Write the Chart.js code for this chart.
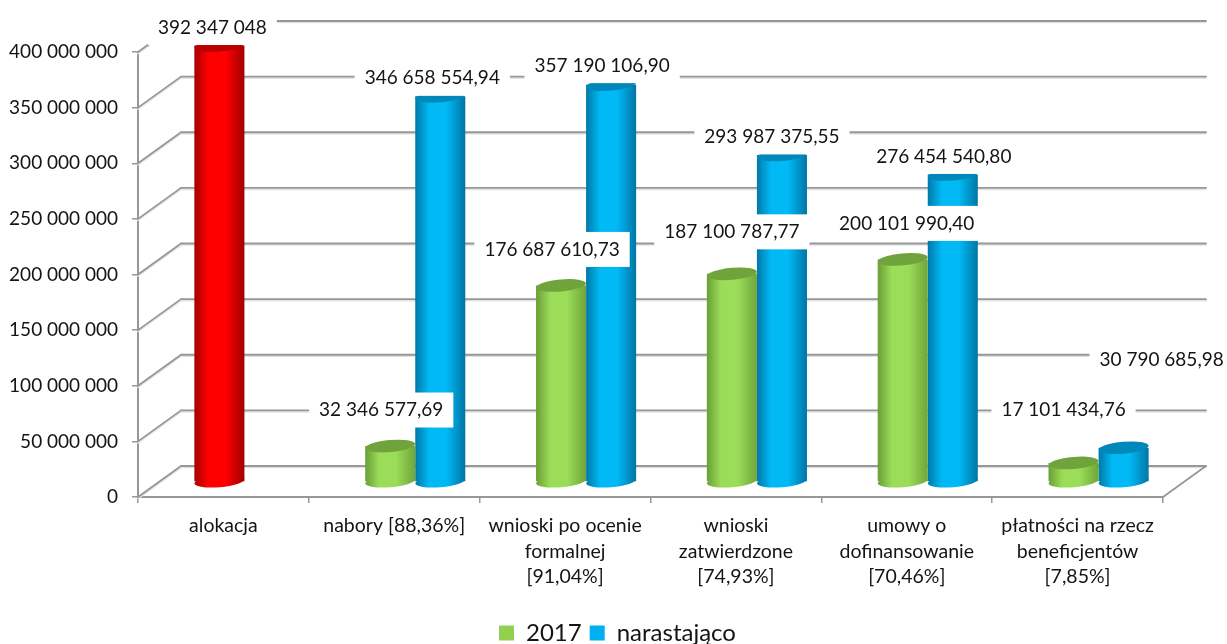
<!DOCTYPE html>
<html lang="pl">
<head>
<meta charset="utf-8">
<title>Alokacja</title>
<script src="https://cdn.jsdelivr.net/npm/chart.js@4"></script>
<style>
html,body{margin:0;padding:0;background:#fff}
#wrap{width:1227px;height:644px;position:relative}
</style>
</head>
<body>
<div id="wrap"><canvas id="c" width="1227" height="644"></canvas></div>
<script>
const categories = [
  ["alokacja"],
  ["nabory [88,36%]"],
  ["wnioski po ocenie","formalnej","[91,04%]"],
  ["wnioski","zatwierdzone","[74,93%]"],
  ["umowy o","dofinansowanie","[70,46%]"],
  ["płatności na rzecz","beneficjentów","[7,85%]"]
];
const values2017 = [392347048, 32346577.69, 176687610.73, 187100787.77, 200101990.40, 17101434.76];
const valuesCumulative = [null, 346658554.94, 357190106.90, 293987375.55, 276454540.80, 30790685.98];
const seriesNames = ["2017", "narastająco"];
const yTicksMax = 400000000;
const yTicksStep = 50000000;

/* label placement relative to the top of each bar (dx, dy) */
const labelShift2017 = [[-7,-18],[-9,-36],[-9,-36],[0,-42],[4,-36],[-10,-53]];
const labelShiftCumulative = [null,[-8,-18],[-9,-19],[-10,-18],[-9,-18],[38,-88]];
const legendLeft = [498,597];
const legendDown = 11;

const FONT = "Lato";
const TEXT = "#141414";
const GRID = "#979797";
const DEPTH = {x:43, y:-31};
const MID = {x:21, y:-15};

const palette = {
  green:{edgeL:"#6a9e35",mid:"#9bdc58",edgeR:"#6fa53a",cap:"#70a33c",solid:"#92d050"},
  blue:{edgeL:"#0079a8",mid:"#00b9f5",edgeR:"#0076a5",cap:"#0088ba",solid:"#00b0f0"},
  red:{edgeL:"#a50000",mid:"#ff0000",edgeR:"#a00000",cap:"#b80000",solid:"#ff0000"}
};

function paletteFor(datasetIndex, dataIndex){
  if(datasetIndex===1) return palette.blue;
  return dataIndex===0 ? palette.red : palette.green;
}
function gradient(c, x0, x1, p){
  const g = c.createLinearGradient(x0,0,x1,0);
  g.addColorStop(0,p.edgeL);
  g.addColorStop(0.28,p.mid);
  g.addColorStop(0.62,p.mid);
  g.addColorStop(1,p.edgeR);
  return g;
}
function fmt(v){
  const s = Number.isInteger(v) ? String(v) : v.toFixed(2).replace(".",",");
  const parts = s.split(",");
  parts[0] = parts[0].replace(/\B(?=(\d{3})+(?!\d))/g," ");
  return parts.join(",");
}

const cylinderPlugin = {
  id:"cylinder",
  afterLayout(chart){
    const lg = chart.legend;
    if(!lg || !lg.legendHitBoxes) return;
    lg.top += legendDown;
    lg.bottom += legendDown;
    lg.legendHitBoxes.forEach((b,i)=>{ b.left = legendLeft[i]; });
  },
  beforeDatasetsDraw(chart){
    const c = chart.ctx, y = chart.scales.y, a = chart.chartArea;
    c.save();
    y.ticks.forEach(t=>{
      const py = y.getPixelForValue(t.value);
      const segs = [[a.left,py,a.left+DEPTH.x,py+DEPTH.y],[a.left+DEPTH.x,py+DEPTH.y,a.right+DEPTH.x,py+DEPTH.y]];
      c.lineCap="round";
      segs.forEach(s=>{
        c.strokeStyle="#e2e2e2"; c.lineWidth=1.5;
        c.beginPath(); c.moveTo(s[0],s[1]+1.6); c.lineTo(s[2],s[3]+1.6); c.stroke();
        c.strokeStyle=GRID; c.lineWidth=1.8;
        c.beginPath(); c.moveTo(s[0],s[1]); c.lineTo(s[2],s[3]); c.stroke();
      });
    });
    const y0 = y.getPixelForValue(0);
    c.strokeStyle=GRID; c.lineWidth=1.8;
    c.beginPath(); c.moveTo(a.right,y0); c.lineTo(a.right+DEPTH.x,y0+DEPTH.y); c.stroke();
    c.restore();
  },
  beforeDatasetDraw(chart){
    chart.ctx.save();
    chart.ctx.translate(MID.x,MID.y);
  },
  afterDatasetDraw(chart,args){
    const c = chart.ctx;
    const meta = args.meta;
    const src = chart.data.datasets[args.index].data;
    meta.data.forEach((el,i)=>{
      if(src[i]===null) return;
      const p = paletteFor(args.index,i);
      const rx = el.width/2, ry = 6, tilt = -5*Math.PI/180;
      // lower rim
      c.fillStyle = gradient(c,el.x-rx,el.x+rx,p);
      c.beginPath();
      c.ellipse(el.x,el.base,rx,ry,tilt,0,Math.PI*2);
      c.fill();
      // top cap, flattened for the tall bars
      c.save();
      if(src[i]>250000000){
        c.beginPath();
        c.rect(el.x-rx-2,el.y-1.8,rx*2+4,20);
        c.clip();
      }
      c.fillStyle = p.cap;
      c.beginPath();
      c.ellipse(el.x,el.y,rx,ry,tilt,0,Math.PI*2);
      c.fill();
      c.restore();
    });
    c.restore();
  },
  afterDatasetsDraw(chart){
    const c = chart.ctx;
    c.save();
    c.font = "19px "+FONT;
    c.textAlign="center";
    c.textBaseline="middle";
    chart.data.datasets.forEach((ds,di)=>{
      const shifts = di===0?labelShift2017:labelShiftCumulative;
      const meta = chart.getDatasetMeta(di);
      ds.data.forEach((v,i)=>{
        if(v===null) return;
        const el = meta.data[i];
        const txt = fmt(v);
        const cx = el.x+MID.x+shifts[i][0], cy = el.y+MID.y+shifts[i][1];
        const w = c.measureText(txt).width+20, h = 35;
        c.fillStyle="#fff";
        c.fillRect(cx-w/2,cy-h/2,w,h);
        c.fillStyle=TEXT;
        c.fillText(txt,cx,cy);
      });
    });
    c.restore();
  }
};

function barFill(ctx){
  const p = paletteFor(ctx.datasetIndex,ctx.dataIndex);
  const ch = ctx.chart;
  if(!ch.chartArea || ctx.type!=="data") return p.solid;
  const xs = ch.scales.x;
  const slot = xs.width/categories.length*0.586/2;
  const cx = xs.getPixelForValue(ctx.dataIndex)+(ctx.datasetIndex===0?-slot/2:slot/2);
  return gradient(ch.ctx,cx-slot/2,cx+slot/2,p);
}

new Chart(document.getElementById("c"),{
  type:"bar",
  data:{
    labels:categories,
    datasets:[
      {label:seriesNames[0],data:values2017,backgroundColor:barFill,borderWidth:0,barPercentage:1,categoryPercentage:0.586,clip:false},
      {label:seriesNames[1],data:valuesCumulative,backgroundColor:barFill,borderWidth:0,barPercentage:1,categoryPercentage:0.586,clip:false}
    ]
  },
  plugins:[cylinderPlugin],
  options:{
    responsive:false,
    animation:false,
    layout:{padding:{top:52,left:8,right:0,bottom:0}},
    plugins:{
      title:{display:false},
      tooltip:{enabled:false},
      legend:{
        position:"bottom",
        labels:{
          font:{family:FONT,size:24},
          color:TEXT,
          boxWidth:15,
          boxHeight:15,
          padding:8,
          generateLabels(){
            return [
              {text:seriesNames[0],fillStyle:palette.green.solid,strokeStyle:palette.green.solid,lineWidth:0,datasetIndex:0,hidden:false,fontColor:TEXT},
              {text:seriesNames[1],fillStyle:palette.blue.solid,strokeStyle:palette.blue.solid,lineWidth:0,datasetIndex:1,hidden:false,fontColor:TEXT}
            ];
          }
        }
      }
    },
    scales:{
      x:{
        offset:true,
        afterFit(s){s.height=105;},
        border:{color:GRID,width:2},
        grid:{display:true,drawOnChartArea:false,drawTicks:true,tickLength:6,color:GRID,lineWidth:1.5,offset:true},
        ticks:{autoSkip:false,maxRotation:0,minRotation:0,padding:10,color:TEXT,font:{family:FONT,size:19.5,lineHeight:1.31}}
      },
      y:{
        min:0,max:yTicksMax,
        afterFit(s){s.width=130;},
        border:{color:GRID,width:2},
        grid:{display:true,drawOnChartArea:false,drawTicks:true,tickLength:6,color:GRID,lineWidth:1.5},
        ticks:{stepSize:yTicksStep,padding:14,color:TEXT,font:{family:FONT,size:19},callback:v=>fmt(v)}
      },
      r:{
        position:"right",display:true,
        afterFit(s){s.width=64;},
        grid:{display:false},border:{display:false},
        ticks:{display:false}
      }
    }
  }
});
</script>
</body>
</html>
